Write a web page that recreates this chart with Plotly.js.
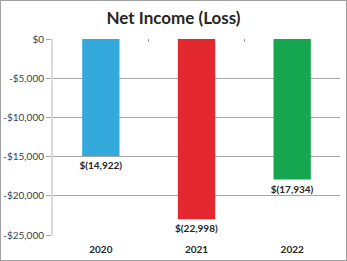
<!DOCTYPE html>
<html><head><meta charset="utf-8">
<script src="https://cdn.plot.ly/plotly-3.0.1.min.js"></script>
<style>
body{margin:0;padding:0;background:#fff;}
#wrap{position:relative;width:347px;height:261px;}
#plot{width:347px;height:261px;}
#border{position:absolute;left:0;top:0;width:347px;height:261px;box-sizing:border-box;border:1px solid #a0a0a0;pointer-events:none;}
</style></head>
<body>
<div id="wrap"><div id="plot"></div><div id="border"></div></div>
<script>
const years = ['2020', '2021', '2022'];
const netIncome = [-14922, -22998, -17934];
const colors = ['#33a9dc', '#e3292f', '#16a650'];
const tickVals = [0, -5000, -10000, -15000, -20000, -25000];
const tickText = ['$0', '-$5,000', '-$10,000', '-$15,000', '-$20,000', '-$25,000'];

function fmt(v){
  const s = Math.abs(v).toLocaleString('en-US');
  return '<b>' + (v < 0 ? '$(' + s + ')' : '$' + s) + '</b>';
}

const font = 'Lato, "Open Sans", sans-serif';
const data = [
  {
    type: 'bar', x: years, y: netIncome,
    marker: {color: colors},
    text: netIncome.map(fmt), textposition: 'outside', constraintext: 'none',
    textfont: {family: font, size: 10, color: '#262626'},
    cliponaxis: false, hoverinfo: 'none'
  },
  {
    type: 'scatter', x: years, y: [null, null, null], xaxis: 'x2', yaxis: 'y',
    showlegend: false, hoverinfo: 'none'
  }
];

const layout = {
  width: 347, height: 261,
  margin: {l: 53, r: 7, t: 39, b: 26},
  paper_bgcolor: '#fff', plot_bgcolor: '#fff',
  showlegend: false,
  bargap: 0.61,
  title: {text: '<b>Net Income (Loss)</b>', x: 0.5, xanchor: 'center', y: 1 - 18/261, yanchor: 'middle',
          font: {family: font, size: 17, color: '#262626'}},
  xaxis: {
    type: 'category', showline: false, showgrid: false, zeroline: false, ticks: '',
    ticklabelstandoff: 7,
    tickfont: {family: font, size: 10, color: '#262626', weight: 'bold'}, fixedrange: true
  },
  xaxis2: {
    type: 'category', overlaying: 'x', side: 'top', showticklabels: false, showgrid: false,
    zeroline: false, showline: false, ticks: 'inside', ticklen: 3, tickcolor: '#9a9a9a',
    tickson: 'boundaries', matches: 'x'
  },
  yaxis: {
    range: [-25000, 0], tickvals: tickVals, ticktext: tickText,
    showgrid: true, gridcolor: '#a6a6a6', gridwidth: 1,
    zeroline: false, showline: true, linecolor: '#d9d9d9', linewidth: 2,
    ticks: 'outside', ticklen: 5, tickcolor: '#a6a6a6',
    tickfont: {family: font, size: 10, color: '#404040'}, fixedrange: true
  }
};

Plotly.newPlot('plot', data, layout, {staticPlot: true, displayModeBar: false});
</script>
</body></html>
